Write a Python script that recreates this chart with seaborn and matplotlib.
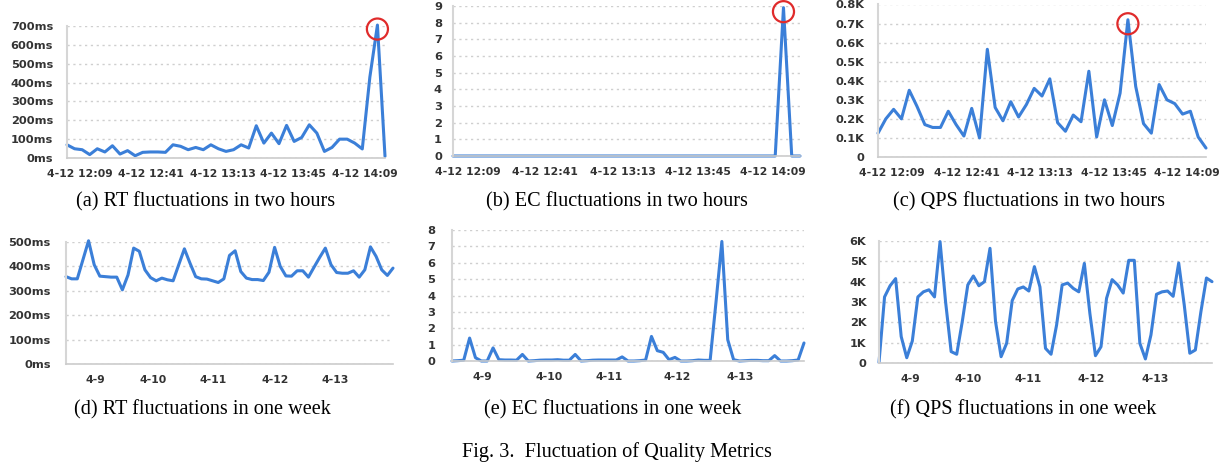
import numpy as np
import matplotlib
matplotlib.use("Agg")
import matplotlib.pyplot as plt
import matplotlib.transforms as mtransforms
import seaborn as sns

# two-hour window, one point every ~3 minutes
hour_labels = ["4-12 12:09", "4-12 12:41", "4-12 13:13", "4-12 13:45", "4-12 14:09"]
rt_hours = [70, 49, 44, 18, 49, 32, 65, 21, 39, 12,
            30, 32, 32, 30, 70, 62, 44, 56, 44, 70,
            49, 35, 44, 70, 53, 171, 79, 132, 76, 173,
            88, 109, 176, 132, 35, 56, 100, 100, 79, 48,
            429, 705, 9]
ec_hours = [0, 0, 0, 0, 0, 0, 0, 0, 0, 0,
            0, 0, 0, 0, 0, 0, 0, 0, 0, 0,
            0, 0, 0, 0, 0, 0, 0, 0, 0, 0,
            0, 0, 0, 0, 0, 0, 0, 0, 0, 0,
            8.9, 0, 0]
qps_hours = [0.125, 0.20, 0.25, 0.20, 0.35, 0.265, 0.17, 0.155, 0.155, 0.24,
             0.17, 0.11, 0.255, 0.10, 0.565, 0.26, 0.19, 0.29, 0.21, 0.275,
             0.36, 0.32, 0.41, 0.18, 0.135, 0.22, 0.185, 0.45, 0.105, 0.30,
             0.165, 0.335, 0.72, 0.37, 0.175, 0.125, 0.38, 0.30, 0.28, 0.225,
             0.24, 0.105, 0.047]

# one-week window
week_labels = ["4-9", "4-10", "4-11", "4-12", "4-13"]
rt_week = [358, 349, 349, 427, 505, 407, 360, 358, 356, 356,
           304, 365, 475, 462, 386, 354, 341, 352, 345, 341,
           407, 472, 413, 358, 349, 348, 341, 334, 349, 445,
           464, 379, 352, 346, 346, 342, 376, 478, 400, 361,
           360, 382, 382, 356, 397, 437, 475, 407, 375, 372,
           372, 382, 356, 386, 480, 441, 386, 363, 393]
ec_week = [0, 0.02, 0.05, 1.4, 0.2, 0, 0, 0.8, 0.08, 0.06,
           0.06, 0.05, 0.4, 0, 0.02, 0.05, 0.06, 0.06, 0.08, 0.05,
           0.05, 0.4, 0, 0.02, 0.05, 0.06, 0.06, 0.06, 0.06, 0.25,
           0, 0, 0.02, 0.06, 1.5, 0.63, 0.53, 0.08, 0.22, 0,
           0, 0.02, 0.06, 0.04, 0.04, 3.6, 7.3, 1.3, 0.08, 0,
           0.02, 0.04, 0.04, 0.02, 0.02, 0.33, 0, 0, 0.02, 0.06,
           1.1]
qps_week = [0.03, 3.25, 3.8, 4.15, 1.3, 0.26, 1.08, 3.25, 3.5, 3.6,
            3.25, 5.97, 3.0, 0.56, 0.43, 2.03, 3.84, 4.28, 3.8, 4.0,
            5.64, 2.03, 0.31, 0.97, 3.07, 3.64, 3.74, 3.54, 4.74, 3.74,
            0.72, 0.43, 1.87, 3.84, 3.93, 3.67, 3.5, 4.9, 2.43, 0.36,
            0.8, 3.18, 4.1, 3.84, 3.44, 5.05, 5.05, 0.97, 0.2, 1.38,
            3.38, 3.5, 3.54, 3.28, 4.92, 2.85, 0.48, 0.64, 2.52, 4.18,
            4.0]

ms_ticks = [0, 100, 200, 300, 400, 500, 600, 700]
ms_labels = [f"{v}ms" for v in ms_ticks]
ec9_ticks = list(range(10))
k08_ticks = [0, 0.1, 0.2, 0.3, 0.4, 0.5, 0.6, 0.7, 0.8]
k08_labels = ["0", "0.1K", "0.2K", "0.3K", "0.4K", "0.5K", "0.6K", "0.7K", "0.8K"]
ec8_ticks = list(range(9))
k6_ticks = [0, 1, 2, 3, 4, 5, 6]
k6_labels = ["0", "1K", "2K", "3K", "4K", "5K", "6K"]

captions = ["(a) RT fluctuations in two hours", "(b) EC fluctuations in two hours",
            "(c) QPS fluctuations in two hours", "(d) RT fluctuations in one week",
            "(e) EC fluctuations in one week", "(f) QPS fluctuations in one week"]

BLUE = "#3b7fd8"
W, H = 1227, 468

sns.set_style("white")
plt.rcParams["font.family"] = ["DejaVu Sans"]

fig = plt.figure(figsize=(W / 100, H / 100), dpi=100)


def add_panel(left, right, top, bottom):
    return fig.add_axes([left / W, 1 - bottom / H, (right - left) / W, (bottom - top) / H])


def draw_panel(ax, values, yticks, ylabels, tick_marks, label_pos, xlabels, ypad, circle=False):
    x = np.arange(len(values))
    sns.lineplot(x=x, y=values, ax=ax, color=BLUE, linewidth=2.2, clip_on=False)
    ax.set_xlim(0, len(values) - 1)
    ax.set_ylim(yticks[0], yticks[-1])
    ax.set_yticks(yticks, ylabels)
    ax.yaxis.grid(True, linestyle=(0, (1.6, 2.6)), color="#cfcfcf", linewidth=1.0)
    ax.set_axisbelow(True)
    ax.set_xticks(label_pos, xlabels)
    ax.set_xticks(tick_marks, minor=True)
    ax.tick_params(axis="x", which="major", length=0, pad=8)
    ax.tick_params(axis="x", which="minor", length=4, width=1.2, color="#cccccc")
    ax.tick_params(axis="y", length=0, pad=ypad)
    for lab in ax.get_xticklabels():
        lab.set_fontsize(7.8)
    for lab in ax.get_yticklabels():
        lab.set_fontsize(8.2)
    for lab in ax.get_xticklabels() + ax.get_yticklabels():
        lab.set_fontweight("bold")
        lab.set_color("#333333")
    for side in ["top", "right"]:
        ax.spines[side].set_visible(False)
    ax.spines["left"].set_color("#d6d6d6")
    ax.spines["left"].set_linewidth(1.5)
    ax.spines["bottom"].set_color("#cccccc")
    ax.spines["bottom"].set_linewidth(1.2)
    ax.set_xlabel("")
    ax.set_ylabel("")
    if circle:
        i = int(np.argmax(values))
        tr = mtransforms.offset_copy(ax.transData, fig=fig, y=-4, units="dots")
        ax.scatter([i], [values[i]], s=230, facecolors="none", edgecolors="#e02b2b",
                   linewidths=1.6, transform=tr, clip_on=False, zorder=5)


ax = add_panel(67, 385, 26, 158)
draw_panel(ax, rt_hours, ms_ticks, ms_labels, [10.6, 21.3, 31.8],
           [1.7, 11.1, 20.6, 29.9, 39.4], hour_labels, 10, circle=True)
ax = add_panel(453, 800, 6, 156)
draw_panel(ax, ec_hours, ec9_ticks, [str(v) for v in ec9_ticks], [10.6, 21.3, 32.0],
           [1.8, 11.1, 20.6, 29.7, 38.7], hour_labels, 8, circle=True)
ax = add_panel(878, 1206, 4.5, 157)
draw_panel(ax, qps_hours, k08_ticks, k08_labels, [10.75, 21.4, 32.1],
           [1.8, 11.4, 20.7, 30.2, 39.6], hour_labels, 10, circle=True)

ax = add_panel(66, 393, 242, 364)
draw_panel(ax, rt_week, ms_ticks[:6], ms_labels[:6], [12.0, 28.7, 45.5],
           [5.2, 15.5, 26.1, 37.1, 47.8], week_labels, 11)
ax = add_panel(452, 804, 230, 361)
draw_panel(ax, ec_week, ec8_ticks, [str(v) for v in ec8_ticks], [12.7, 29.7, 46.7],
           [5.1, 16.5, 26.8, 38.4, 49.1], week_labels, 12)
ax = add_panel(879, 1212, 241, 363)
draw_panel(ax, qps_week, k6_ticks, k6_labels, [12.7, 29.8, 46.9],
           [5.6, 16.1, 26.8, 38.2, 49.7], week_labels, 9)

cap_x = [206, 617, 1029, 202, 613, 1023]
cap_y = [202, 202, 202, 410, 410, 410]
for cx, cy, txt in zip(cap_x, cap_y, captions):
    fig.text(cx / W, 1 - cy / H, txt, ha="center", va="center",
             family="Liberation Serif", fontsize=14.6, color="black")
fig.text(617 / W, 1 - 452 / H, "Fig. 3.  Fluctuation of Quality Metrics", ha="center",
         va="center", family="Liberation Serif", fontsize=14.6, color="black")

fig.savefig("out.png", dpi=100)
